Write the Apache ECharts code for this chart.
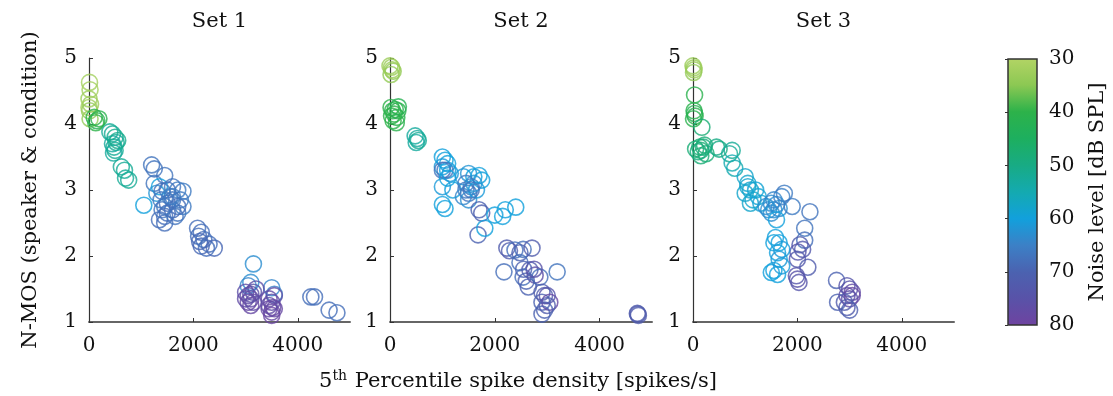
<!DOCTYPE html>
<html>
<head>
<meta charset="utf-8">
<script src="https://cdn.jsdelivr.net/npm/echarts@6/dist/echarts.min.js"></script>
<style>
html, body { margin: 0; padding: 0; background: #fff; }
#chart { width: 1113px; height: 396px; }
</style>
</head>
<body>
<div id="chart"></div>
<script>
// [spike density, N-MOS, noise level dB SPL]
var set1 = [
	[10,4.63,32],[20,4.52,32],[0,4.38,33],[30,4.3,33],[10,4.2,34],[20,4.08,34],[0,4.25,32],
	[100,4.1,40],[150,4.05,42],[190,4.08,41],[130,4.02,40],
	[400,3.88,52],[450,3.85,52],[500,3.8,51],[520,3.72,52],[450,3.7,53],[480,3.65,52],[500,3.6,52],[470,3.56,53],[550,3.75,51],
	[620,3.35,52],[680,3.3,52],[700,3.18,52],[760,3.15,52],
	[1050,2.77,60],[1200,3.38,67],[1250,3.32,67],[1450,3.22,67],[1250,3.1,67],[1350,3.05,60],[1300,2.95,62],[1400,2.98,67],
	[1500,3.0,68],[1600,3.05,67],[1700,3.0,66],[1800,2.98,66],[1750,2.85,66],[1500,2.8,68],[1400,2.7,67],[1600,2.7,68],
	[1450,2.6,68],[1700,2.65,67],[1800,2.75,66],[1350,2.55,68],[1450,2.5,68],[1650,2.6,67],[1550,2.9,66],[1450,2.75,67],
	[1600,2.85,67],[1380,2.85,66],[1500,2.65,68],[1700,2.75,68],[1600,2.9,66],
	[2080,2.42,68],[2150,2.36,68],[2100,2.3,68],[2200,2.25,68],[2150,2.15,69],[2250,2.12,68],[2400,2.12,69],[2300,2.18,68],[2120,2.22,69],
	[3150,1.88,63],[3100,1.6,63],[3500,1.52,64],[3050,1.55,64],[3550,1.42,65],
	[3000,1.45,76],[3050,1.4,77],[3100,1.35,77],[3150,1.45,75],[3050,1.3,78],[3100,1.25,78],[3200,1.5,76],[3000,1.35,77],[3100,1.42,76],[3150,1.3,77],
	[3450,1.35,77],[3500,1.3,77],[3550,1.4,76],[3450,1.2,78],[3500,1.15,78],[3550,1.2,78],[3500,1.1,79],[3450,1.25,77],[3520,1.22,78],
	[4250,1.38,68],[4320,1.38,68],[4600,1.18,68],[4750,1.14,68]
];
var set2 = [
	[0,4.88,33],[30,4.86,33],[60,4.8,34],[20,4.75,34],[40,4.82,33],
	[20,4.25,40],[100,4.22,41],[150,4.2,41],[80,4.15,40],[130,4.1,41],[60,4.05,40],[120,4.02,41],[30,4.12,40],[160,4.26,42],[50,4.2,41],
	[480,3.82,53],[520,3.78,53],[500,3.72,53],[540,3.75,52],
	[1000,3.5,60],[1050,3.45,60],[1100,3.4,60],[1000,3.35,61],[1100,3.3,60],[1050,3.3,67],[1000,3.3,67],[1150,3.25,61],
	[1100,3.18,60],[1000,3.05,61],[1200,3.0,60],[1000,2.78,60],[1050,2.72,60],
	[1400,3.2,61],[1500,3.25,62],[1600,3.2,60],[1700,3.22,60],[1750,3.15,60],[1450,3.0,66],[1500,2.95,67],[1550,3.05,66],
	[1400,2.9,64],[1500,2.85,63],[1600,3.1,62],[1650,3.0,61],[1450,3.1,66],[1550,3.0,67],
	[1700,2.7,70],[1750,2.65,71],[1680,2.32,70],[1810,2.42,60],[2000,2.62,60],[2200,2.7,60],[2400,2.74,60],[2150,2.6,60],
	[2230,2.12,72],[2280,2.08,72],[2385,2.09,68],[2540,2.1,68],[2710,2.12,72],[2480,2.05,70],[2175,1.76,68],[3190,1.76,67],
	[2480,1.9,68],[2540,1.68,68],[2670,1.79,72],[2770,1.71,76],[2860,1.68,68],[2640,1.53,70],[2600,1.62,70],[2750,1.8,75],[2550,1.8,70],
	[2900,1.45,72],[2950,1.4,72],[2900,1.3,70],[3050,1.3,78],[2950,1.18,70],[3000,1.25,72],[2900,1.12,70],[3000,1.4,74],
	[4730,1.12,72],[4740,1.1,72],[4720,1.13,72]
];
var set3 = [
	[0,4.88,33],[20,4.82,33],[10,4.78,34],[15,4.85,33],
	[30,4.44,41],[20,4.2,41],[40,4.12,41],[10,4.08,41],[30,4.16,42],
	[170,3.95,48],
	[50,3.62,48],[150,3.6,48],[200,3.65,49],[250,3.55,48],[150,3.52,48],[100,3.58,49],[220,3.68,48],[130,3.65,48],
	[450,3.65,50],[500,3.62,50],[750,3.6,52],[700,3.55,52],
	[750,3.41,55],[800,3.33,55],
	[1000,3.2,58],[1050,3.1,58],[1100,3.0,58],[1000,2.95,58],[1150,2.85,58],[1200,3.0,59],[1100,2.8,58],[1250,2.9,59],[1300,2.8,59],[1050,3.05,58],
	[1400,2.75,63],[1450,2.7,63],[1500,2.8,63],[1550,2.7,63],[1600,2.78,63],[1650,2.72,63],[1500,2.65,63],[1700,2.9,65],
	[1750,2.95,66],[1900,2.75,66],[1600,2.55,60],[1550,2.85,64],
	[2240,2.67,67],[2140,2.42,67],[2140,2.24,68],[2050,2.17,72],[2010,2.06,74],[2200,1.83,72],[2000,1.65,75],[2030,1.6,74],
	[1980,1.7,74],[2000,1.95,73],[2100,2.1,73],
	[1580,2.28,60],[1650,2.2,60],[1620,2.05,60],[1550,1.78,60],[1620,1.72,60],[1700,1.85,61],[1550,2.2,60],[1700,2.1,61],[1500,1.75,60],[1650,1.95,61],
	[2750,1.63,70],[2770,1.3,70],[2950,1.55,74],[3000,1.5,75],[3050,1.45,77],[2950,1.4,76],[3000,1.35,76],[3050,1.4,78],
	[2900,1.3,72],[2950,1.22,72],[3000,1.18,71]
];
var setNames = ['Set 1', 'Set 2', 'Set 3'];

// colormap, one colour every 5 dB from 30 to 80
var cmap = ['#b3d465','#8cc853','#2db24a','#1daf5f','#18ab84','#14aab0','#12a0dc','#3c80c6','#4b62b0','#5952a8','#6f43a0'];

function hexRgb(h){
	return [parseInt(h.substr(1,2),16), parseInt(h.substr(3,2),16), parseInt(h.substr(5,2),16)];
}
function colorAt(n){
	var t = (n - 30) / 5;
	if(t < 0) t = 0;
	if(t > cmap.length - 1) t = cmap.length - 1;
	var i = Math.min(Math.floor(t), cmap.length - 2);
	var f = t - i;
	var a = hexRgb(cmap[i]), b = hexRgb(cmap[i+1]);
	var c = [0,1,2].map(function(k){ return Math.round(a[k] + (b[k]-a[k])*f); });
	return 'rgb(' + c.join(',') + ')';
}

var FONT = 'DejaVu Serif';
var gridLefts = [89, 390, 693];
var gridWidths = [261, 262, 261];

var grids = [], xAxes = [], yAxes = [], series = [], texts = [];
[set1, set2, set3].forEach(function(set, i){
	grids.push({left: gridLefts[i], top: 58, width: gridWidths[i], height: 264});
	xAxes.push({
		gridIndex: i, type: 'value', min: 0, max: 5000, interval: 2000,
		splitLine: {show: false},
		axisLine: {lineStyle: {color: '#666', width: 2}},
		axisTick: {inside: true, length: 4, lineStyle: {color: '#333'}},
		axisLabel: {color: '#111', fontFamily: FONT, fontSize: 20, margin: 14, showMaxLabel: false,
			formatter: function(v){ return String(v); }}
	});
	yAxes.push({
		gridIndex: i, type: 'value', min: 1, max: 5, interval: 1,
		splitLine: {show: false},
		axisLine: {show: true, lineStyle: {color: '#333', width: 1.2}},
		axisTick: {show: true, inside: true, length: 4, lineStyle: {color: '#333'}},
		axisLabel: {color: '#111', fontFamily: FONT, fontSize: 20, margin: 12},
		name: i == 0 ? 'N-MOS (speaker & condition)' : '',
		nameLocation: 'middle', nameGap: 48,
		nameTextStyle: {color: '#111', fontFamily: FONT, fontSize: 21}
	});
	series.push({
		type: 'scatter', xAxisIndex: i, yAxisIndex: i,
		symbol: 'circle', symbolSize: 16, clip: false,
		data: set.map(function(p){
			return {value: [p[0], p[1]], itemStyle: {color: 'rgba(0,0,0,0)', borderColor: colorAt(p[2]), borderWidth: 1.6}};
		})
	});
	texts.push({
		type: 'text', x: gridLefts[i] + gridWidths[i] / 2, y: 22,
		style: {text: setNames[i], fontFamily: FONT, fontSize: 21, fill: '#111', align: 'center', verticalAlign: 'middle'}
	});
});

// colour bar: a grid filled with the colormap gradient, plus its axis
grids.push({
	left: 1008, top: 59, width: 29, height: 266, show: true,
	borderColor: '#333', borderWidth: 1.5,
	backgroundColor: {
		type: 'linear', x: 0, y: 0, x2: 0, y2: 1,
		colorStops: cmap.map(function(c, k){ return {offset: k / (cmap.length - 1), color: c}; })
	}
});
xAxes.push({gridIndex: 3, type: 'value', min: 0, max: 1, show: false});
yAxes.push({
	gridIndex: 3, type: 'value', min: 30, max: 80, interval: 10, inverse: true, position: 'right',
	splitLine: {show: false},
	axisLine: {show: false},
	axisTick: {show: true, inside: true, length: 3, lineStyle: {color: '#333'}},
	axisLabel: {color: '#111', fontFamily: FONT, fontSize: 20, margin: 12},
	name: 'Noise level [dB SPL]', nameLocation: 'middle', nameGap: 50, nameRotate: 90,
	nameTextStyle: {color: '#111', fontFamily: FONT, fontSize: 21}
});

texts.push({
	type: 'text', x: 518, y: 382,
	style: {
		text: '5{sup|th} Percentile spike density [spikes/s]',
		fontFamily: FONT, fontSize: 21, fill: '#111', align: 'center', verticalAlign: 'middle',
		rich: {sup: {fontFamily: FONT, fontSize: 14, fill: '#111', padding: [0, 1, 12, 0]}}
	}
});

var chart = echarts.init(document.getElementById('chart'));
chart.setOption({
	backgroundColor: '#fff',
	animation: false,
	grid: grids,
	xAxis: xAxes,
	yAxis: yAxes,
	series: series,
	graphic: texts
});
</script>
</body>
</html>
